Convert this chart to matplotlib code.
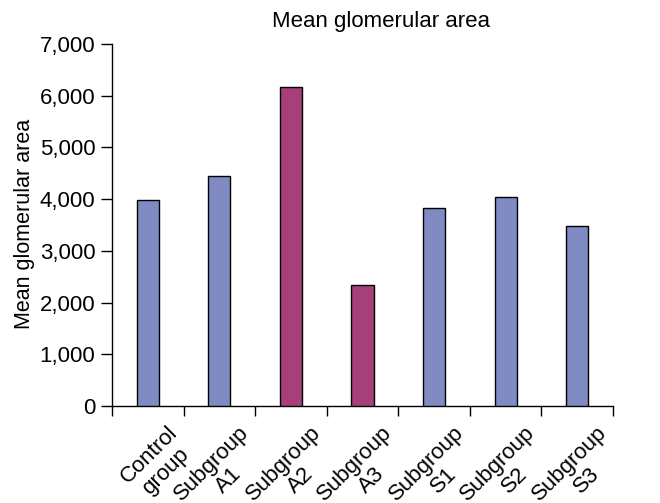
import matplotlib
matplotlib.use("Agg")
import matplotlib.pyplot as plt
import matplotlib.transforms as mtransforms
from matplotlib.ticker import FuncFormatter, FixedLocator

categories = ["Control\ngroup", "Subgroup\nA1", "Subgroup\nA2", "Subgroup\nA3",
              "Subgroup\nS1", "Subgroup\nS2", "Subgroup\nS3"]
values = [3980, 4440, 6175, 2335, 3825, 4035, 3490]
colors = ["#7F8BC2", "#7F8BC2", "#A63F7A", "#A63F7A", "#7F8BC2", "#7F8BC2", "#7F8BC2"]
yticks = [0, 1000, 2000, 3000, 4000, 5000, 6000, 7000]

plt.rcParams['font.family'] = ['Liberation Sans', 'DejaVu Sans']

fig = plt.figure(figsize=(6.6, 5.03), dpi=100)
ax = fig.add_axes([112/660, 1-406/503, (613-112)/660, (406-44)/503])

x = list(range(len(categories)))
ax.bar(x, values, width=0.31, color=colors, edgecolor="black", linewidth=1.0, zorder=3)

ax.set_xlim(-0.5, len(categories) - 0.5)
ax.set_ylim(0, 7000)
ax.set_yticks(yticks)
ax.yaxis.set_major_formatter(FuncFormatter(lambda v, p: f"{int(v):,}"))
ax.tick_params(axis='y', length=8, width=1, labelsize=16, pad=4, direction='out')

ax.set_xticks(x)
ax.set_xticklabels([])
ax.xaxis.set_minor_locator(FixedLocator([i - 0.5 for i in range(len(categories) + 1)]))
ax.tick_params(axis='x', which='major', length=0)
ax.tick_params(axis='x', which='minor', length=7, width=1, direction='out')

for s in ["top", "right"]:
    ax.spines[s].set_visible(False)
for s in ["left", "bottom"]:
    ax.spines[s].set_linewidth(1)

offset = mtransforms.ScaledTranslation(19/100, -16/100, fig.dpi_scale_trans)
for xi, lab in zip(x, categories):
    ax.text(xi, 0, lab, transform=ax.get_xaxis_transform() + offset,
            rotation=45, ha='right', va='top', rotation_mode='anchor',
            multialignment='center', fontsize=16, linespacing=1.2)

fig.text(381/660, 1-21/503, "Mean glomerular area", ha='center', va='center', fontsize=16)
fig.text(25/660, 1-224/503, "Mean glomerular area", ha='center', va='center',
         rotation=90, fontsize=15.5)

fig.savefig("out.png", dpi=100)
